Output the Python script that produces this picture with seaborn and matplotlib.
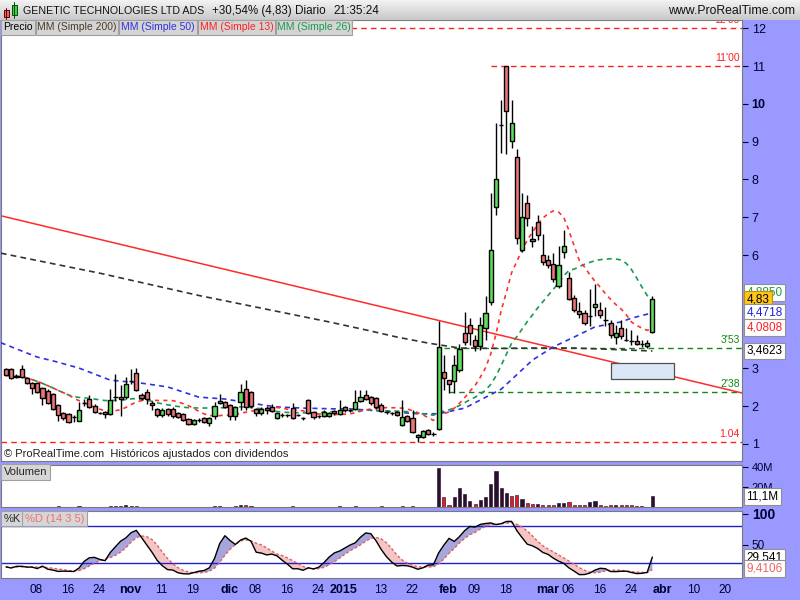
import matplotlib
matplotlib.use('Agg')
import matplotlib.pyplot as plt
from matplotlib.patches import Rectangle
from matplotlib.colors import LinearSegmentedColormap
import seaborn as sns
import pandas as pd
import numpy as np

# ---------------- data ----------------
opens = [2.98, 2.98, 2.80, 2.98, 2.75, 2.61, 2.61, 2.48, 2.40, 2.32,
         2.03, 1.82, 1.79, 1.72, 1.61, 2.08, 2.19, 2.01, 1.82, 1.85,
         1.79, 2.24, 2.24, 2.24, 2.67, 2.88, 2.30, 2.38, 2.08, 1.93,
         1.77, 1.93, 1.93, 1.82, 1.79, 1.66, 1.53, 1.63, 1.69, 1.56,
         1.74, 2.08, 2.11, 2.03, 1.74, 2.11, 2.46, 2.38, 1.93, 1.82,
         1.95, 1.98, 1.69, 1.77, 1.77, 1.95, 1.77, 1.69, 2.16, 1.85,
         1.74, 1.74, 1.74, 1.87, 1.79, 1.98, 1.90, 1.93, 2.14, 2.30,
         2.24, 2.22, 2.03, 1.85, 1.82, 1.85, 1.50, 1.74, 1.69, 1.19,
         1.19, 1.37, 1.26, 1.40, 2.90, 2.69, 2.67, 2.95, 3.94, 4.15,
         3.75, 3.59, 4.07, 4.76, 7.27, 9.44, 11.00, 9.02, 8.59, 6.13,
         7.38, 6.37, 6.87, 6.00, 5.87, 5.76, 5.18, 6.08, 5.39, 4.86,
         4.52, 4.47, 4.39, 4.62, 4.54, 4.28, 4.20, 3.83, 4.07, 3.75,
         3.72, 3.72, 3.65, 3.59, 3.96]
highs = [3.02, 3.00, 2.85, 3.08, 2.78, 2.64, 2.64, 2.50, 2.45, 2.35,
         2.06, 1.85, 1.82, 1.76, 2.11, 2.18, 2.30, 2.05, 1.85, 1.87,
         2.45, 2.85, 2.55, 2.78, 2.98, 3.00, 2.35, 2.45, 2.15, 1.95,
         1.95, 1.95, 1.98, 1.85, 1.82, 1.70, 1.66, 1.68, 1.72, 1.72,
         2.12, 2.32, 2.14, 2.05, 2.00, 2.59, 2.70, 2.40, 1.95, 1.98,
         2.00, 2.05, 1.85, 1.82, 1.80, 2.08, 1.80, 1.72, 2.18, 1.87,
         1.77, 1.90, 1.85, 1.90, 2.16, 2.00, 1.93, 2.43, 2.43, 2.43,
         2.27, 2.24, 2.08, 1.88, 1.85, 1.87, 2.16, 1.77, 1.90, 1.27,
         1.37, 1.40, 1.32, 4.25, 3.35, 2.70, 3.35, 3.65, 4.49, 4.33,
         3.88, 4.36, 4.92, 7.65, 9.49, 10.10, 11.00, 10.10, 8.80, 7.64,
         7.59, 6.77, 7.06, 6.56, 6.00, 6.05, 6.24, 6.66, 5.55, 4.94,
         4.76, 4.54, 5.10, 5.23, 4.76, 4.62, 4.28, 4.15, 4.28, 4.07,
         4.01, 3.88, 3.75, 3.75, 4.92]
lows = [2.80, 2.72, 2.74, 2.74, 2.58, 2.33, 2.35, 2.03, 2.05, 1.90,
        1.60, 1.64, 1.55, 1.58, 1.60, 2.00, 1.96, 1.83, 1.79, 1.70,
        1.77, 2.15, 1.75, 2.20, 2.60, 2.40, 2.17, 2.05, 1.90, 1.72,
        1.72, 1.75, 1.70, 1.68, 1.60, 1.50, 1.50, 1.58, 1.55, 1.48,
        1.66, 2.05, 1.95, 1.63, 1.63, 1.90, 1.90, 1.95, 1.74, 1.77,
        1.80, 1.85, 1.66, 1.72, 1.71, 1.66, 1.74, 1.63, 1.80, 1.66,
        1.69, 1.72, 1.71, 1.77, 1.77, 1.85, 1.85, 1.90, 2.11, 2.16,
        2.03, 1.93, 1.85, 1.80, 1.77, 1.74, 1.48, 1.58, 1.30, 1.05,
        1.16, 1.24, 1.21, 1.38, 2.43, 2.35, 2.35, 2.90, 3.62, 3.62,
        3.46, 3.49, 3.75, 4.68, 7.06, 8.70, 8.67, 8.83, 6.30, 6.08,
        6.77, 6.21, 6.40, 5.74, 5.66, 5.29, 5.13, 5.92, 4.81, 4.49,
        4.33, 4.15, 4.12, 4.39, 4.33, 4.12, 3.80, 3.65, 3.78, 3.72,
        3.62, 3.62, 3.57, 3.54, 3.94]
closes = [2.83, 2.75, 2.78, 2.77, 2.61, 2.48, 2.38, 2.22, 2.08, 1.93,
          1.77, 1.69, 1.58, 1.71, 1.90, 2.08, 1.98, 1.85, 1.82, 1.79,
          2.16, 2.24, 2.19, 2.59, 2.67, 2.43, 2.22, 2.19, 2.03, 1.77,
          1.90, 1.79, 1.74, 1.71, 1.63, 1.53, 1.63, 1.64, 1.58, 1.69,
          2.01, 2.14, 1.98, 1.74, 1.98, 2.38, 1.98, 2.01, 1.82, 1.93,
          1.90, 1.87, 1.82, 1.77, 1.77, 1.69, 1.77, 1.69, 1.82, 1.71,
          1.74, 1.85, 1.82, 1.82, 1.90, 1.90, 1.90, 2.11, 2.24, 2.19,
          2.08, 1.98, 1.87, 1.85, 1.82, 1.77, 1.71, 1.61, 1.32, 1.24,
          1.34, 1.26, 1.26, 3.57, 2.75, 2.59, 3.09, 3.51, 3.70, 3.94,
          3.59, 4.15, 4.47, 6.13, 8.01, 9.44, 9.81, 9.49, 6.45, 7.00,
          6.98, 6.42, 6.53, 5.81, 5.74, 5.37, 5.74, 6.24, 4.84, 4.54,
          4.44, 4.20, 4.39, 4.70, 4.41, 4.28, 3.88, 3.94, 3.86, 3.75,
          3.72, 3.65, 3.65, 3.67, 4.83]
volume_m = [0.4, 0.5, 0.3, 0.4, 0.3, 0.4, 0.5, 0.4, 0.5, 0.4,
            0.6, 0.4, 0.3, 0.3, 1.4, 0.5, 0.4, 0.3, 0.3, 0.4,
            1.5, 1.0, 0.6, 1.8, 1.2, 0.6, 0.4, 0.4, 0.3, 0.3,
            0.3, 0.3, 0.3, 0.3, 0.3, 0.3, 0.3, 0.3, 0.3, 0.3,
            1.2, 1.3, 0.5, 0.5, 1.1, 1.6, 2.4, 1.3, 0.4, 0.4,
            0.4, 0.4, 0.4, 0.4, 0.4, 1.0, 0.3, 0.3, 0.3, 0.3,
            0.3, 0.3, 0.3, 0.3, 1.0, 0.3, 0.3, 1.1, 0.4, 0.4,
            0.4, 0.4, 1.2, 0.4, 0.3, 0.3, 0.6, 0.5, 0.6, 0.5,
            0.4, 0.4, 0.4, 39.0, 9.8, 2.3, 9.8, 18.6, 13.0, 6.2,
            3.0, 7.2, 9.8, 23.0, 36.5, 18.6, 13.7, 11.4, 12.0, 7.8,
            3.9, 3.3, 2.9, 1.7, 1.7, 2.3, 4.2, 3.6, 5.2, 2.3,
            1.7, 1.7, 4.9, 5.9, 1.7, 1.3, 1.7, 2.3, 2.0, 1.7,
            2.3, 1.3, 1.0, 0.5, 11.1]

holidays = ['2014-11-27', '2014-12-25', '2015-01-01', '2015-01-19',
            '2015-02-16', '2015-04-03']

# moving averages that need history before the window: read at sample bars
ma200_bar = [-1, 18, 37, 62, 69, 75, 81, 87, 95, 102, 109, 115, 124]
ma200_val = [6.05, 5.52, 4.93, 4.23, 4.02, 3.83, 3.67, 3.54, 3.53, 3.54, 3.54, 3.51, 3.46]
ma50_bar = [-1, 6, 9, 14, 20, 26, 31, 37, 42, 47, 52, 57, 63, 66, 72, 79, 83,
            88, 95, 101, 105, 109, 113, 118, 120, 124]
ma50_val = [3.68, 3.30, 3.20, 3.01, 2.69, 2.61, 2.51, 2.24, 2.19, 2.08, 1.98, 1.95,
            1.93, 1.93, 1.87, 1.80, 1.80, 1.95, 2.45, 3.22, 3.57, 3.83, 4.10, 4.23,
            4.33, 4.47]

trend_bar = [-1, 141.2]
trend_val = [7.04, 2.35]

level_val = [12.00, 11.00, 3.53, 2.38, 1.04]
level_txt = ["12'00", "11'00", "3'53", "2'38", "1.04"]
level_col = ['#ff2020', '#ff2020', '#118811', '#118811', '#ff2020']
level_from = [-1, 93, 84, 85, -1]

box_bars = (116.0, 128.2)
box_vals = (2.72, 3.14)

tick_dates = ['2014-10-08', '2014-10-16', '2014-10-24', '2014-11-03', '2014-11-11',
              '2014-11-19', '2014-12-01', '2014-12-08', '2014-12-16', '2014-12-24',
              '2015-01-02', '2015-01-13', '2015-01-22', '2015-02-02', '2015-02-09',
              '2015-02-18', '2015-03-02', '2015-03-06', '2015-03-16', '2015-03-24',
              '2015-04-01', '2015-04-10', '2015-04-20']
tick_text = ['08', '16', '24', 'nov', '11', '19', 'dic', '08', '16', '24', '2015',
             '13', '22', 'feb', '09', '18', 'mar', '06', '16', '24', 'abr', '10', '20']

# ---------------- derived series ----------------
df = pd.DataFrame({'open': opens, 'high': highs, 'low': lows,
                   'close': closes, 'vol': volume_m})
n = len(df)
bars = np.arange(n)
df['ma13'] = df['close'].rolling(13, min_periods=1).mean()
df['ma26'] = df['close'].rolling(26, min_periods=1).mean()
ll = df['low'].rolling(14, min_periods=1).min()
hh = df['high'].rolling(14, min_periods=1).max()
raw_k = 100 * (df['close'] - ll) / (hh - ll)
df['k'] = raw_k.rolling(3, min_periods=1).mean()
df['d'] = df['k'].rolling(5, min_periods=1).mean()

days = pd.bdate_range('2014-10-01', '2015-04-30')
days = days[~days.isin(pd.to_datetime(holidays))]
tick_pos = [days.get_loc(pd.Timestamp(t)) for t in tick_dates]

# ---------------- figure ----------------
sns.set_style('white')
plt.rcParams['font.family'] = ['Liberation Sans', 'DejaVu Sans']

W, H = 800, 600
PURPLE = '#9999ff'
NAVY = '#000033'
XL = (-0.96, 141.2)


def fx(px):
    return px / W


def fy(py):
    return 1 - py / H


fig = plt.figure(figsize=(8, 6), dpi=100, facecolor=PURPLE)

ax = fig.add_axes([fx(1), fy(461), fx(741), (461 - 20) / H])
axv = fig.add_axes([fx(1), fy(507), fx(741), 42 / H])
axs = fig.add_axes([fx(1), fy(578), fx(741), 67 / H])

for a in (ax, axv, axs):
    a.set_facecolor('white')
    a.set_xlim(*XL)
    a.set_xticks([])
    a.yaxis.tick_right()
    a.tick_params(axis='y', direction='out', length=4, width=0.8, pad=3,
                  colors=NAVY, labelsize=9)
    for s in a.spines.values():
        s.set_color('#7a7a7a')
        s.set_linewidth(0.8)

# ---- price panel ----
ax.set_ylim(0.55, 12.22)
yt = [1, 2, 3, 6, 7, 8, 9, 10, 11, 12]
ax.set_yticks(yt)
ax.set_yticklabels([str(v) for v in yt])
for lbl in ax.get_yticklabels():
    if lbl.get_text() == '10':
        lbl.set_fontweight('bold')

# horizontal levels
for v, t, c, s in zip(level_val, level_txt, level_col, level_from):
    ax.plot([s, XL[1]], [v, v], color=c, lw=1, ls=(0, (4, 3)), zorder=2)
    ax.text(XL[1] - 0.4, v + 0.08, t, color=c, fontsize=7.5, ha='right', va='bottom',
            zorder=2, clip_on=True)

# trend line and box
ax.plot(trend_bar, trend_val, color='#ff2a2a', lw=1.1, zorder=2)
ax.add_patch(Rectangle((box_bars[0], box_vals[0]), box_bars[1] - box_bars[0],
                       box_vals[1] - box_vals[0], facecolor='#dbe6f7',
                       edgecolor='#505050', lw=0.9, zorder=2))

# moving averages
sns.lineplot(x=ma200_bar, y=ma200_val, ax=ax, color='#333333', lw=1.2,
             linestyle=(0, (3.5, 2.5)), zorder=3)
sns.lineplot(x=ma50_bar, y=ma50_val, ax=ax, color='#3030e0', lw=1.2,
             linestyle=(0, (3, 2.5)), zorder=3)
sns.lineplot(x=bars, y=df['ma26'], ax=ax, color='#1a9a50', lw=1.2,
             linestyle=(0, (3, 2.5)), zorder=3)
sns.lineplot(x=bars, y=df['ma13'], ax=ax, color='#ff3030', lw=1.2,
             linestyle=(0, (2.5, 2.5)), zorder=3)

# candles
up = df['close'] >= df['open']
ax.vlines(bars, df['low'], df['high'], color='black', lw=1, zorder=4)
ax.bar(bars, (df['close'] - df['open']).abs(),
       bottom=np.minimum(df['open'], df['close']), width=0.8,
       color=np.where(up, '#5ddc5d', '#ee7575'), edgecolor='black',
       linewidth=1, zorder=5)

ax.text(fx(3) / fx(742), 0.005, '\u00a9 ProRealTime.com  Hist\u00f3ricos ajustados con dividendos',
        transform=ax.transAxes, fontsize=8, color='#202020', va='bottom', ha='left')

# value boxes on the price scale
tr = ax.get_yaxis_transform()
vbox = [('4,8850', 5.0, '#1a9a50', 'white', '#909090'),
        ('4,83', 4.83, 'black', '#ffc61a', '#c09000'),
        ('4,4718', 4.4718, '#2020dd', 'white', '#909090'),
        ('4,0808', 4.0808, '#ff2020', 'white', '#909090'),
        ('3,4623', 3.4623, 'black', 'white', '#909090')]
for t, v, c, fc, ec in vbox:
    ax.text(1.006, v, t, transform=tr, color=c, fontsize=8.5, va='center', ha='left',
            bbox=dict(boxstyle='square,pad=0.2', fc=fc, ec=ec, lw=0.8), clip_on=False,
            zorder=10)

# ---- volume panel ----
prev = df['close'].shift(1).fillna(df['open'])
vcol = np.where(df['close'] >= prev, '#2a1030', '#e02020')
axv.bar(bars, df['vol'], width=0.6, color=vcol, edgecolor='#200020', linewidth=0.4)
axv.set_ylim(0, 42)
axv.set_yticks([20, 40])
axv.set_yticklabels(['20M', '40M'], fontsize=8)
axv.text(1.006, 10.5, '11,1M', transform=axv.get_yaxis_transform(), color='black',
         fontsize=8.5, va='center', ha='left', clip_on=False, zorder=10,
         bbox=dict(boxstyle='square,pad=0.2', fc='white', ec='#909090', lw=0.8))
axv.text(0.004, 0.95, 'Volumen', transform=axv.transAxes, fontsize=8, va='top', ha='left',
         bbox=dict(boxstyle='square,pad=0.25', fc='#d6d6d6', ec='#a0a0a0', lw=0.8))

# ---- stochastic panel ----
axs.set_ylim(-4.4, 104.4)
k = df['k'].to_numpy()
d = df['d'].to_numpy()
axs.fill_between(bars, k, d, where=k >= d, interpolate=True, color='#a6a6dc', lw=0)
axs.fill_between(bars, k, d, where=k < d, interpolate=True, color='#f5c4c4', lw=0)
axs.axhline(80, color='#2020cc', lw=1)
axs.axhline(20, color='#2020cc', lw=1)
sns.lineplot(x=bars, y=d, ax=axs, color='#e06060', lw=1, linestyle=(0, (2, 1.5)))
sns.lineplot(x=bars, y=k, ax=axs, color='black', lw=1)
axs.set_yticks([50, 100])
axs.set_yticklabels(['50', '100'], fontsize=8.5)
axs.get_yticklabels()[1].set_fontweight('bold')
axs.get_yticklabels()[1].set_fontsize(10)
str_ = axs.get_yaxis_transform()
axs.text(1.006, 29.5, '29,541', transform=str_, color='black', fontsize=8.5,
         va='center', ha='left', clip_on=False, zorder=10,
         bbox=dict(boxstyle='square,pad=0.2', fc='white', ec='#909090', lw=0.8))
axs.text(1.006, 11, '9,4106', transform=str_, color='#f06060', fontsize=8.5,
         va='center', ha='left', clip_on=False, zorder=10,
         bbox=dict(boxstyle='square,pad=0.2', fc='white', ec='#909090', lw=0.8))
axs.text(0.004, 0.96, '%K', transform=axs.transAxes, fontsize=8, va='top', ha='left',
         bbox=dict(boxstyle='square,pad=0.25', fc='#d6d6d6', ec='#a0a0a0', lw=0.8))
axs.text(0.032, 0.96, '%D (14 3 5)', transform=axs.transAxes, fontsize=8, va='top',
         ha='left', color='#f07070',
         bbox=dict(boxstyle='square,pad=0.25', fc='#d6d6d6', ec='#a0a0a0', lw=0.8))

for a in (ax, axv, axs):
    a.set_xlabel('')
    a.set_ylabel('')

# date labels
xtr = axs.get_xaxis_transform()
for p, t in zip(tick_pos, tick_text):
    bold = not t.isdigit() or t == '2015'
    axs.text(p + 0.85, -0.18, t, transform=xtr, ha='center', va='center',
             fontsize=9 if bold else 8.5, color=NAVY,
             fontweight='bold' if bold else 'normal', clip_on=False)

# ---- header bar ----
axh = fig.add_axes([0, fy(20), 1, 20 / H])
grad = LinearSegmentedColormap.from_list('hdr', ['#f2f2f2', '#c9c9c9'])
axh.imshow(np.linspace(0, 1, 20).reshape(-1, 1), aspect='auto', cmap=grad,
           extent=[0, W, 20, 0])
axh.set_xlim(0, W)
axh.set_ylim(20, 0)
axh.axis('off')
axh.add_patch(Rectangle((3.5, 10), 5, 7, fc='#ee6060', ec='#600000', lw=0.7))
axh.plot([6, 6], [8, 19], color='#600000', lw=0.7)
axh.add_patch(Rectangle((11.5, 5), 5, 10, fc='#40d040', ec='#005000', lw=0.7))
axh.plot([14, 14], [2, 18], color='#005000', lw=0.7)
hdr = [(23, 'GENETIC TECHNOLOGIES LTD ADS', 7.7), (212, '+30,54% (4,83)', 8.3),
       (295, 'Diario', 8.5), (333, '21:35:24', 8.5)]
for xp, t, fs in hdr:
    axh.text(xp, 11, t, fontsize=fs, color='#111111',
             va='center', ha='left')
axh.text(795, 11, 'www.ProRealTime.com', fontsize=8.8,
         color='#111111', va='center', ha='right')

# legend strip
legend_items = [(1, 35, 'Precio', 'black'), (36, 118, 'MM (Simple 200)', '#4a3a28'),
                (119, 197, 'MM (Simple 50)', '#3030e0'),
                (198, 275, 'MM (Simple 13)', '#ff2020'),
                (276, 352, 'MM (Simple 26)', '#1a9a50')]
for x0, x1, t, c in legend_items:
    fig.patches.append(Rectangle((fx(x0), fy(35)), fx(x1 - x0), 15 / H,
                                 transform=fig.transFigure, fc='#d4d4d4',
                                 ec='#a0a0a0', lw=0.8, zorder=20))
    fig.text(fx((x0 + x1) / 2), fy(27.5), t, color=c, fontsize=7.5, va='center',
             ha='center', zorder=21)

fig.savefig('out.png', dpi=100, facecolor=PURPLE)
